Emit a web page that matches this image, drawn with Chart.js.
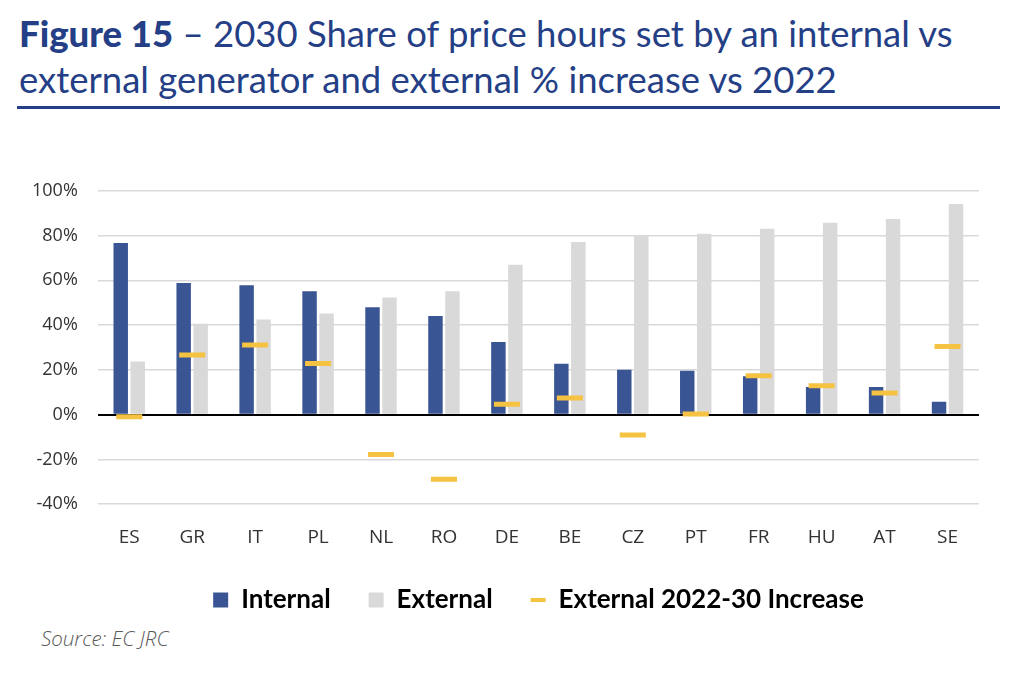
<!DOCTYPE html>
<html lang="en">
<head>
  <meta charset="UTF-8">
  <title>Figure 15</title>
  <script src="https://cdn.jsdelivr.net/npm/chart.js"></script>
  <style>
    body { margin: 0; background: #fff; width: 1016px; height: 678px; position: relative; overflow: hidden; }
    #title {
      position: absolute; left: 19px; top: 10px; width: 995px;
      font-family: Lato, sans-serif; font-size: 36.5px; line-height: 46px;
      color: #243f86;
    }
    #title b { font-weight: 900; }
    #rule { position: absolute; left: 17px; top: 106px; width: 983px; height: 3px; background: #243f86; }
    #wrap { position: absolute; left: 0; top: 160px; width: 1016px; height: 463px; }
    #source {
      position: absolute; left: 41px; top: 624px;
      font-family: "Open Sans", sans-serif; font-style: italic; font-weight: 300;
      font-size: 20.5px; color: #595959;
    }
  </style>
</head>
<body>
  <div id="title"><b>Figure 15</b> – 2030 Share of price hours set by an internal vs<br>external generator and external % increase vs 2022</div>
  <div id="rule"></div>
  <div id="wrap"><canvas id="chart"></canvas></div>
  <div id="source">Source: EC JRC</div>

  <script>
    const countries = ['ES', 'GR', 'IT', 'PL', 'NL', 'RO', 'DE', 'BE', 'CZ', 'PT', 'FR', 'HU', 'AT', 'SE'];
    const internal = [76.7, 58.8, 57.8, 55.1, 48.0, 44.1, 32.5, 22.7, 20.1, 19.6, 17.2, 12.3, 12.3, 5.8];
    const external = [23.8, 40.6, 42.5, 45.2, 52.3, 55.1, 67.0, 77.1, 80.1, 80.8, 83.1, 85.7, 87.4, 94.1];
    const increase = [-0.9, 26.7, 31.1, 22.9, -17.8, -28.8, 4.6, 7.4, -9.1, 0.3, 17.4, 12.9, 9.7, 30.5];
    const yTicks = [-40, -20, 0, 20, 40, 60, 80, 100];

    const blue = '#3a5594';
    const grey = '#d9d9d9';
    const yellow = '#f5c242';

    // legend sits a bit right of the canvas centre in the original
    const legendShift = {
      id: 'legendShift',
      afterLayout(chart) {
        chart.legend.left += 43;
        chart.legend.right += 43;
      }
    };

    const ctx = document.getElementById('chart').getContext('2d');
    new Chart(ctx, {
      data: {
        labels: countries,
        datasets: [
          { type: 'bar', label: 'Internal', data: internal, backgroundColor: blue, order: 1,
            categoryPercentage: 0.54, barPercentage: 0.85 },
          { type: 'bar', label: 'External', data: external, backgroundColor: grey, order: 1,
            categoryPercentage: 0.54, barPercentage: 0.85 },
          { type: 'line', label: 'External 2022-30 Increase', data: increase, order: 0,
            showLine: false, pointStyle: 'line', pointRadius: 13, pointHoverRadius: 13,
            borderColor: yellow, backgroundColor: yellow, pointBorderWidth: 5, borderWidth: 5 }
        ]
      },
      plugins: [legendShift],
      options: {
        responsive: true,
        maintainAspectRatio: false,
        animation: false,
        layout: { padding: { left: 12, right: 37, top: 10, bottom: 0 } },
        plugins: {
          tooltip: { enabled: false },
          legend: {
            position: 'bottom',
            labels: {
              usePointStyle: true,
              pointStyleWidth: 15,
              boxHeight: 15,
              padding: 38,
              color: '#595959',
              font: { family: 'Lato', size: 26, weight: 'bold' },
              generateLabels: (chart) => chart.data.datasets.map((ds, i) => ({
                text: ds.label,
                fillStyle: ds.backgroundColor,
                strokeStyle: ds.type === 'line' ? yellow : ds.backgroundColor,
                lineWidth: ds.type === 'line' ? 4 : 0,
                pointStyle: ds.type === 'line' ? 'line' : 'rect',
                datasetIndex: i,
                hidden: false
              }))
            }
          }
        },
        scales: {
          x: {
            grid: { display: false },
            border: { display: false },
            afterFit: (scale) => { scale.height -= 14; },
            ticks: { color: '#333333', font: { family: 'Open Sans', size: 19 }, padding: 14 }
          },
          y: {
            min: -40, max: 100,
            afterBuildTicks: (axis) => { axis.ticks = yTicks.map(v => ({ value: v })); },
            border: { display: false },
            grid: {
              color: (c) => c.tick && c.tick.value === 0 ? '#000000' : '#d9d9d9',
              lineWidth: (c) => c.tick && c.tick.value === 0 ? 2 : 1.5,
              drawTicks: false
            },
            ticks: {
              color: '#333333', padding: 20,
              font: { family: 'Open Sans', size: 18 },
              callback: (v) => v + '%'
            }
          }
        }
      }
    });
  </script>
</body>
</html>
